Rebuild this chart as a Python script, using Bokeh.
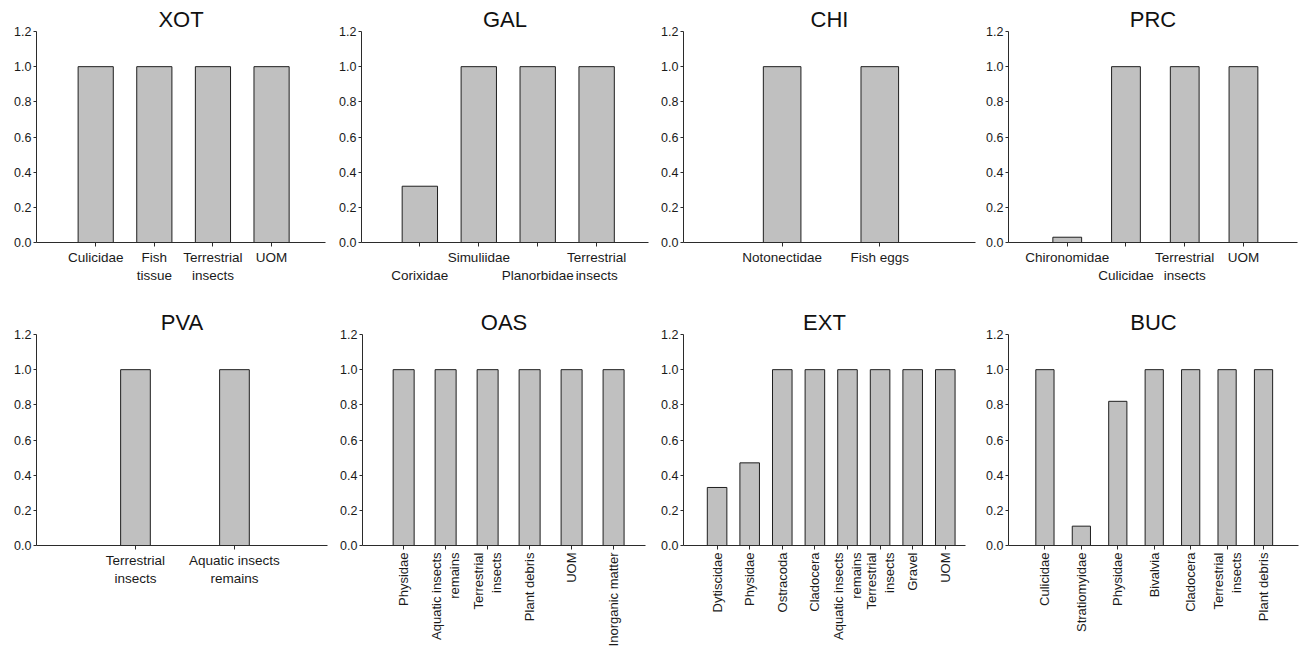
import math
from bokeh.plotting import figure
from bokeh.layouts import column, row
from bokeh.models import FixedTicker, Range1d, ColumnDataSource, PrintfTickFormatter
from bokeh.embed import file_html
from bokeh.resources import INLINE

# ---------------- data ----------------
xot_labels = ["Culicidae", "Fish\ntissue", "Terrestrial\ninsects", "UOM"]
xot_values = [1.0, 1.0, 1.0, 1.0]

gal_labels = ["\nCorixidae", "Simuliidae", "\nPlanorbidae", "Terrestrial\ninsects"]
gal_values = [0.32, 1.0, 1.0, 1.0]

chi_labels = ["Notonectidae", "Fish eggs"]
chi_values = [1.0, 1.0]

prc_labels = ["Chironomidae", "\nCulicidae", "Terrestrial\ninsects", "UOM"]
prc_values = [0.03, 1.0, 1.0, 1.0]

pva_labels = ["Terrestrial\ninsects", "Aquatic insects\nremains"]
pva_values = [1.0, 1.0]

oas_labels = ["Physidae", "Aquatic insects\nremains", "Terrestrial\ninsects",
              "Plant debris", "UOM", "Inorganic matter"]
oas_values = [1.0, 1.0, 1.0, 1.0, 1.0, 1.0]

ext_labels = ["Dytiscidae", "Physidae", "Ostracoda", "Cladocera",
              "Aquatic insects\nremains", "Terrestrial\ninsects", "Gravel", "UOM"]
ext_values = [0.33, 0.47, 1.0, 1.0, 1.0, 1.0, 1.0, 1.0]

buc_labels = ["Culicidae", "Stratiomyidae", "Physidae", "Bivalvia",
              "Cladocera", "Terrestrial\ninsects", "Plant debris"]
buc_values = [1.0, 0.11, 0.82, 1.0, 1.0, 1.0, 1.0]

y_ticks = [0.0, 0.2, 0.4, 0.6, 0.8, 1.0, 1.2]

FONT = "Liberation Sans"
TEXT = "#1a1a1a"
AXIS = "#2b2b2b"


def panel(name, labels, values, width, height, borders, xr, bar_w, rotate=False):
    left, right, top, bottom = borders
    p = figure(width=width, height=height, output_backend="svg", toolbar_location=None,
               x_range=Range1d(*xr), y_range=Range1d(0, 1.2),
               min_border_left=left, min_border_right=right,
               min_border_top=top, min_border_bottom=bottom,
               title=name)
    p.title.align = "center"
    p.title.text_font = FONT
    p.title.text_font_size = "22px"
    p.title.text_font_style = "normal"
    p.title.text_color = "#111111"
    p.title.standoff = 0
    p.outline_line_color = None
    p.xgrid.visible = False
    p.ygrid.visible = False

    src = ColumnDataSource(dict(x=list(range(len(values))), top=values))
    p.vbar(x="x", top="top", bottom=0, width=bar_w, source=src,
           fill_color="#c0c0c0", line_color="#1f1f1f", line_width=1)

    xa = p.xaxis[0]
    xa.ticker = FixedTicker(ticks=list(range(len(labels))))
    xa.major_label_overrides = {i: lab for i, lab in enumerate(labels)}
    xa.major_label_text_font = FONT
    xa.major_label_text_font_size = "13px" if rotate else "13.5px"
    xa.major_label_text_color = TEXT
    xa.axis_line_color = AXIS
    xa.major_tick_line_color = AXIS
    xa.major_tick_out = 4
    xa.major_tick_in = 0
    xa.minor_tick_line_color = None
    xa.major_label_standoff = 3
    if rotate:
        xa.major_label_orientation = math.pi / 2

    ya = p.yaxis[0]
    ya.ticker = FixedTicker(ticks=y_ticks)
    ya.formatter = PrintfTickFormatter(format="%.1f")
    ya.major_label_text_font = FONT
    ya.major_label_text_font_size = "12.5px"
    ya.major_label_text_color = TEXT
    ya.axis_line_color = AXIS
    ya.major_tick_line_color = AXIS
    ya.major_tick_out = 3
    ya.major_tick_in = 0
    ya.minor_tick_line_color = None
    ya.major_label_standoff = 2
    return p


TOP_H = 300
BOT_H = 349
TOP_B = (31, 58)     # top / bottom borders, first row
BOT_B = (34, 103)    # top / bottom borders, second row

p1 = panel("XOT", xot_labels, xot_values, 330, TOP_H, (36, 5) + TOP_B, (-1.01, 3.92), 0.6)
p2 = panel("GAL", gal_labels, gal_values, 323, TOP_H, (31, 5) + TOP_B, (-0.99, 3.88), 0.6)
p3 = panel("CHI", chi_labels, chi_values, 325, TOP_H, (30, 3) + TOP_B, (-1.01, 1.98), 0.385)
p4 = panel("PRC", prc_labels, prc_values, 322, TOP_H, (30, 3) + TOP_B, (-1.0, 3.92), 0.49)

p5 = panel("PVA", pva_labels, pva_values, 330, BOT_H, (36, 3) + BOT_B, (-1.0, 1.94), 0.3)
p6 = panel("OAS", oas_labels, oas_values, 323, BOT_H, (32, 8) + BOT_B, (-0.98, 5.76), 0.5, rotate=True)
p7 = panel("EXT", ext_labels, ext_values, 325, BOT_H, (30, 13) + BOT_B, (-1.03, 7.62), 0.6, rotate=True)
p8 = panel("BUC", buc_labels, buc_values, 322, BOT_H, (30, 2) + BOT_B, (-1.0, 6.96), 0.5, rotate=True)

layout = column(row(p1, p2, p3, p4), row(p5, p6, p7, p8))

with open("out.html", "w") as f:
    f.write(file_html(layout, INLINE))
